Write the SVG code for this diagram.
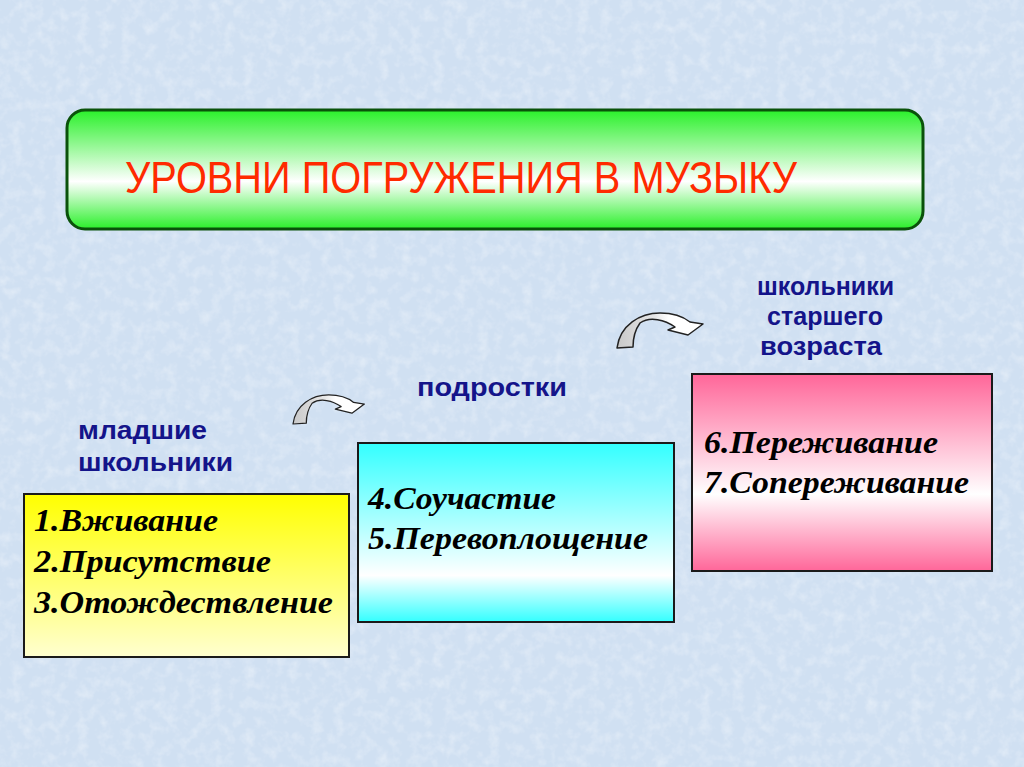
<svg xmlns="http://www.w3.org/2000/svg" width="1024" height="767" viewBox="0 0 1024 767">
<style>
.lbl{font-family:"Liberation Sans",Arial,sans-serif;font-weight:bold;font-size:25px;fill:#14148a}
.item{font-family:"Liberation Serif","Times New Roman",serif;font-weight:bold;font-style:italic;font-size:32px;fill:#000}
.box{stroke:#1a1a1a;stroke-width:2}
.arrow{fill:url(#gArrow);stroke:#222;stroke-width:1.5;stroke-linejoin:round}
</style>
<defs>
<linearGradient id="gGreen" x1="0" y1="0" x2="0" y2="1">
<stop offset="0" stop-color="#2af02a"/><stop offset="0.6" stop-color="#ffffff"/><stop offset="1" stop-color="#2af02a"/>
</linearGradient>
<linearGradient id="gYellow" x1="0" y1="0" x2="0" y2="1">
<stop offset="0" stop-color="#ffff00"/><stop offset="1" stop-color="#ffffd0"/>
</linearGradient>
<linearGradient id="gCyan" x1="0" y1="0" x2="0" y2="1">
<stop offset="0" stop-color="#33ffff"/><stop offset="0.74" stop-color="#ffffff"/><stop offset="1" stop-color="#33ffff"/>
</linearGradient>
<linearGradient id="gPink" x1="0" y1="0" x2="0" y2="1">
<stop offset="0" stop-color="#ff6699"/><stop offset="0.61" stop-color="#ffffff"/><stop offset="1" stop-color="#ff6699"/>
</linearGradient>
<linearGradient id="gArrow" x1="0" y1="0" x2="1" y2="0">
<stop offset="0" stop-color="#c8c8c8"/><stop offset="0.45" stop-color="#e8e8e8"/><stop offset="0.6" stop-color="#ffffff"/><stop offset="1" stop-color="#ffffff"/>
</linearGradient>
<filter id="tex" x="0" y="0" width="100%" height="100%">
<feTurbulence type="fractalNoise" baseFrequency="0.09" numOctaves="3" seed="4"/>
<feColorMatrix type="matrix" values="0 0 0 0 1  0 0 0 0 1  0 0 0 0 1  0 0 0 1.4 -0.6"/>
</filter>
<path id="arrowShape" d="M0 0 C3 -23 23 -35 43 -35 C58 -35 68 -30 73 -26 L86 -24 L71 -13 L51 -18 L58 -21 C48 -28 33 -32 23 -25 C18 -18 16 -8 16 -1 Z"/>
</defs>
<g id="background">
<rect x="0" y="0" width="1024" height="767" fill="#d0e0f2"/>
<rect x="0" y="0" width="1024" height="767" filter="url(#tex)" opacity="0.5"/>
</g>
<g id="title">
<rect x="67" y="110" width="856" height="119" rx="18" ry="18" fill="url(#gGreen)" stroke="#0a520a" stroke-width="3"/>
<text x="125" y="193" font-family="'Liberation Sans',Arial,sans-serif" font-size="45" fill="#ff2a00" textLength="672" lengthAdjust="spacingAndGlyphs">УРОВНИ ПОГРУЖЕНИЯ В МУЗЫКУ</text>
</g>
<g id="connectors">
<use href="#arrowShape" class="arrow" transform="translate(293,424) scale(0.83)"/>
<use href="#arrowShape" class="arrow" transform="translate(617,348)"/>
</g>
<g id="label-junior">
<text class="lbl" x="78" y="439" textLength="129" lengthAdjust="spacingAndGlyphs">младшие</text>
<text class="lbl" x="78" y="471" textLength="155" lengthAdjust="spacingAndGlyphs">школьники</text>
</g>
<g id="label-teen">
<text class="lbl" x="417" y="396" textLength="150" lengthAdjust="spacingAndGlyphs">подростки</text>
</g>
<g id="label-senior">
<text class="lbl" x="757" y="295" textLength="137" lengthAdjust="spacingAndGlyphs">школьники</text>
<text class="lbl" x="767" y="325" textLength="116" lengthAdjust="spacingAndGlyphs">старшего</text>
<text class="lbl" x="760" y="355" textLength="122" lengthAdjust="spacingAndGlyphs">возраста</text>
</g>
<g id="box-yellow">
<rect class="box" x="24" y="494" width="325" height="163" fill="url(#gYellow)"/>
<text class="item" x="34" y="531" textLength="184" lengthAdjust="spacingAndGlyphs">1.Вживание</text>
<text class="item" x="34" y="572" textLength="237" lengthAdjust="spacingAndGlyphs">2.Присутствие</text>
<text class="item" x="34" y="613" textLength="299" lengthAdjust="spacingAndGlyphs">3.Отождествление</text>
</g>
<g id="box-cyan">
<rect class="box" x="358" y="443" width="316" height="179" fill="url(#gCyan)"/>
<text class="item" x="368" y="509" textLength="188" lengthAdjust="spacingAndGlyphs">4.Соучастие</text>
<text class="item" x="368" y="549" textLength="280" lengthAdjust="spacingAndGlyphs">5.Перевоплощение</text>
</g>
<g id="box-pink">
<rect class="box" x="692" y="374" width="300" height="197" fill="url(#gPink)"/>
<text class="item" x="704" y="453" textLength="234" lengthAdjust="spacingAndGlyphs">6.Переживание</text>
<text class="item" x="704" y="493" textLength="265" lengthAdjust="spacingAndGlyphs">7.Сопереживание</text>
</g>
</svg>
